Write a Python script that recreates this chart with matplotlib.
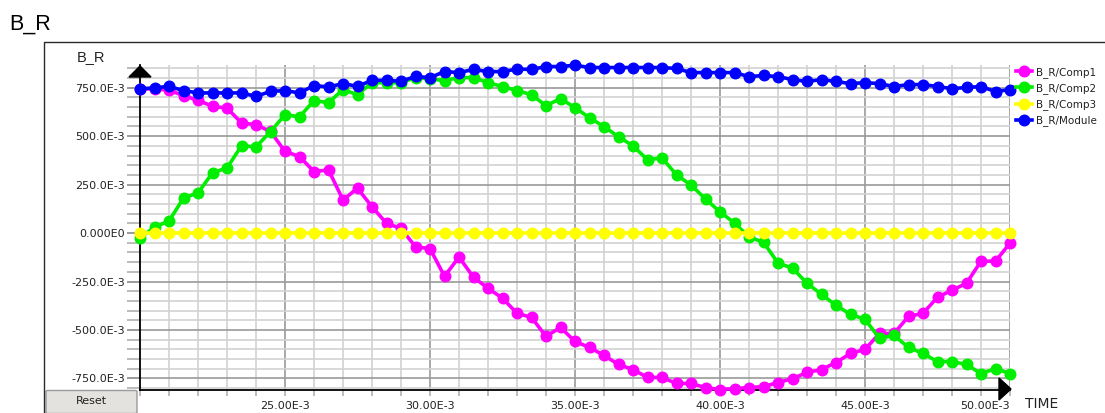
import numpy as np
import matplotlib
matplotlib.use("Agg")
import matplotlib.pyplot as plt
from matplotlib.patches import Polygon, FancyBboxPatch
from matplotlib.lines import Line2D
from matplotlib.ticker import MultipleLocator, FixedLocator

# ---- data (values in E-3) ----
time_ms = np.arange(20.0, 50.01, 0.5)  # E-3

comp1 = [744, 744, 737, 709, 685, 654, 645, 568, 559, 524,
         421, 395, 317, 326, 171, 231, 136, 50, 24, -71,
         -80, -223, -124, -228, -285, -336, -414, -435, -533, -487,
         -559, -590, -631, -678, -704, -745, -745, -776, -776, -797,
         -807, -802, -797, -792, -771, -751, -719, -704, -668, -621,
         -600, -518, -518, -430, -414, -331, -295, -259, -145, -145,
         -52]
comp2 = [-26, 31, 62, 181, 207, 311, 336, 450, 445, 523,
         611, 600, 683, 673, 740, 714, 776, 776, 776, 802,
         795, 787, 802, 802, 776, 756, 735, 714, 657, 694,
         647, 595, 549, 497, 450, 378, 388, 300, 248, 176,
         109, 52, -21, -47, -155, -181, -259, -316, -373, -419,
         -445, -543, -528, -590, -621, -663, -663, -678, -725, -699,
         -725]
comp3 = [0] * 61
module = [744, 749, 757, 735, 723, 723, 723, 723, 705, 731,
          735, 723, 761, 754, 771, 757, 788, 788, 783, 808,
          802, 833, 828, 844, 833, 833, 846, 844, 859, 859,
          866, 854, 854, 854, 854, 854, 854, 849, 828, 828,
          828, 828, 807, 813, 807, 792, 782, 792, 782, 771,
          776, 771, 756, 766, 766, 756, 745, 751, 756, 730,
          740]

series_names = ["B_R/Comp1", "B_R/Comp2", "B_R/Comp3", "B_R/Module"]
series_colors = ["#ff00ff", "#00ee00", "#ffff00", "#0000ff"]
series_values = [comp1, comp2, comp3, module]

x_ticks = [25, 30, 35, 40, 45, 50]
x_ticklabels = ["25.00E-3", "30.00E-3", "35.00E-3", "40.00E-3", "45.00E-3", "50.00E-3"]
y_ticks = [750, 500, 250, 0, -250, -500, -750]
y_ticklabels = ["750.0E-3", "500.0E-3", "250.0E-3", "0.000E0", "-250.0E-3", "-500.0E-3", "-750.0E-3"]

# ---- figure ----
W, H = 1105, 413
fig = plt.figure(figsize=(W / 100, H / 100), dpi=100)
plt.rcParams['font.family'] = ['DejaVu Sans']

def fx(px):
    return px / W

def fy(py):
    return (H - py) / H

ax_left, ax_right = 140, 1010
ax_top, ax_bot = 65.2, 389.5
ax = fig.add_axes([fx(ax_left), fy(ax_bot), (ax_right - ax_left) / W, (ax_bot - ax_top) / H])

for vals, col, name in zip(series_values, series_colors, series_names):
    ax.plot(time_ms, vals, color=col, lw=2.6, marker='o', ms=7.6, mec=col, mfc=col,
            label=name, clip_on=False, zorder=3)

allv = np.concatenate([np.asarray(v, float) for v in series_values])
ax.set_xlim(time_ms[0], time_ms[-1])
ax.set_ylim(allv.min(), allv.max())

ax.xaxis.set_major_locator(FixedLocator(x_ticks))
ax.xaxis.set_minor_locator(MultipleLocator(1))
ax.yaxis.set_major_locator(FixedLocator(y_ticks))
ax.yaxis.set_minor_locator(MultipleLocator(50))
ax.set_xticklabels(x_ticklabels)
ax.set_yticklabels(y_ticklabels)

ax.grid(which='minor', color='#d2d2d2', lw=1.2, zorder=0)
ax.grid(which='major', color='#9a9a9a', lw=1.2, zorder=0)
ax.set_axisbelow(True)
# major vertical grid at every 5E-3 (including 20)
ax.tick_params(axis='x', which='both', length=4.5, width=1.2, colors='#b0b0b0',
               labelcolor='#222222', labelsize=8, pad=3.5)
ax.tick_params(axis='y', which='both', length=9.5, width=1.2, colors='#b0b0b0',
               labelcolor='#222222', labelsize=8, pad=1.5)
ax.tick_params(axis='y', which='major', colors='#8a8a8a', labelcolor='#222222')
for lab in ax.get_xticklabels():
    lab.set_fontsize(8)
labs = ax.get_xticklabels()
labs[-1].set_horizontalalignment('right')

for s in ['top', 'right']:
    ax.spines[s].set_visible(False)
for s in ['left', 'bottom']:
    ax.spines[s].set_color('black')
    ax.spines[s].set_linewidth(1.3)
    ax.spines[s].set_zorder(2.5)
ax.patch.set_alpha(0)

# axis arrows
fig.patches.append(Polygon([[fx(129), fy(77)], [fx(151), fy(77)], [fx(140), fy(66)]],
                           closed=True, color='black', transform=fig.transFigure, zorder=5))
fig.patches.append(Polygon([[fx(999), fy(378)], [fx(999), fy(400)], [fx(1011), fy(389)]],
                           closed=True, color='black', transform=fig.transFigure, zorder=5))

# panel border
fig.add_artist(Line2D([fx(44), fx(44), fx(1106)], [fy(414), fy(42), fy(42)],
                      color='#2a2a2a', lw=1.0, transform=fig.transFigure))

# titles
fig.text(fx(9), fy(24.5), "B_R", fontsize=15.5, va='center', ha='left', color='black',
         family='Liberation Sans')
fig.text(fx(77), fy(57), "B_R", fontsize=10.5, va='center', ha='left', color='#222222',
         family='Liberation Sans')
fig.text(fx(1025), fy(404), "TIME", fontsize=10, va='center', ha='left', color='#222222')

# reset button
btn = FancyBboxPatch((fx(46), fy(413.5)), fx(91), (413.5 - 390.5) / H,
                     boxstyle="round,pad=0,rounding_size=0.002",
                     facecolor='#e4e2de', edgecolor='#9a9a9a', lw=1.0,
                     transform=fig.transFigure)
fig.patches.append(btn)
fig.text(fx(91.5), fy(401.5), "Reset", fontsize=8, ha='center', va='center', color='#222222')

# legend
leg = ax.legend(loc='upper left', bbox_to_anchor=(fx(1016), fy(67)),
                bbox_transform=fig.transFigure, frameon=False, fontsize=7.5,
                handlelength=1.55, handletextpad=0.35, labelspacing=0.5,
                borderpad=0, borderaxespad=0, markerscale=1.0)
for t in leg.get_texts():
    t.set_color('#222222')

fig.savefig("out.png", dpi=100)
